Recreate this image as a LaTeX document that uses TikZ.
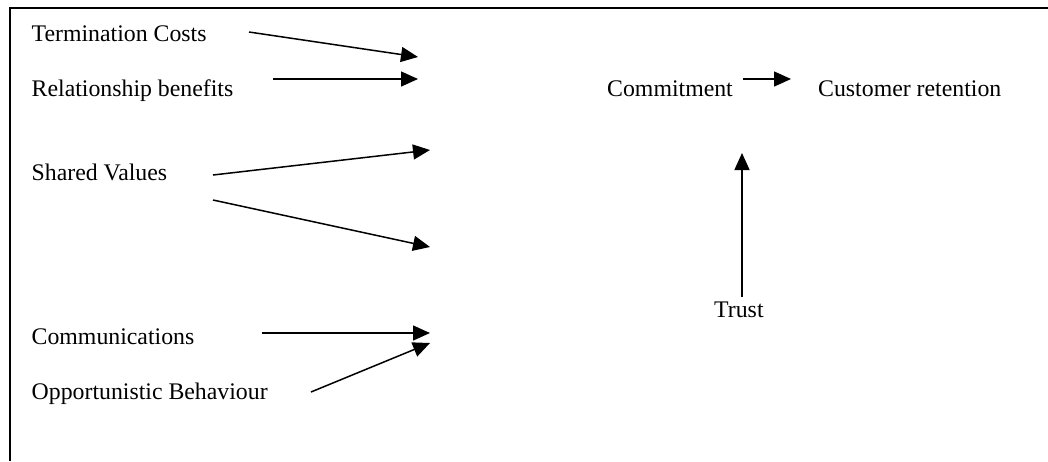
\documentclass[tikz,border=0pt]{standalone}
\usepackage{fontspec}
\setmainfont{Liberation Serif}
\usetikzlibrary{arrows.meta}
\begin{document}
\begin{tikzpicture}[x=1pt,y=-1pt,
  lbl/.style={anchor=base west,inner sep=0pt,font=\fontsize{23.8}{28}\selectfont},
  arr/.style={line width=1.5pt,-{Triangle[length=17pt,width=15pt]}},
  frame/.style={line width=2pt}]
  \useasboundingbox (0,0) rectangle (1048,461);
  % open frame: top and left edges only
  \draw[frame] (9.5,461) -- (9.5,7.5) -- (1048,7.5);

  % antecedent labels
  \node[lbl] (tc) at (31.5,41) {Termination Costs};
  \node[lbl] (rb) at (31.5,96.5) {Relationship benefits};
  \node[lbl] (sv) at (31.5,180) {Shared Values};
  \node[lbl] (co) at (31.5,344) {Communications};
  \node[lbl] (ob) at (31.5,399) {Opportunistic Behaviour};

  % outcome labels
  \node[lbl] (cm) at (607,96) {Commitment};
  \node[lbl] (cr) at (818,96) {Customer retention};
  \node[lbl] (tr) at (714,317) {Trust};

  % arrow end points
  \coordinate (tcA) at (249,32);   \coordinate (tcB) at (418,57);
  \coordinate (rbA) at (273,79);   \coordinate (rbB) at (418,79);
  \coordinate (svA) at (213,175);  \coordinate (svB) at (430,150);
  \coordinate (svC) at (213,200);  \coordinate (svD) at (430,247);
  \coordinate (coA) at (262,333);  \coordinate (coB) at (430,333);
  \coordinate (obA) at (311,392);  \coordinate (obB) at (430,343);
  \coordinate (cmA) at (743,79);   \coordinate (crB) at (791,79);
  \coordinate (trA) at (742,297);  \coordinate (trB) at (742,153);

  \draw[arr] (tcA) -- (tcB);
  \draw[arr] (rbA) -- (rbB);
  \draw[arr] (svA) -- (svB);
  \draw[arr] (svC) -- (svD);
  \draw[arr] (coA) -- (coB);
  \draw[arr] (obA) -- (obB);
  \draw[arr] (cmA) -- (crB);
  \draw[arr] (trA) -- (trB);
\end{tikzpicture}
\end{document}
